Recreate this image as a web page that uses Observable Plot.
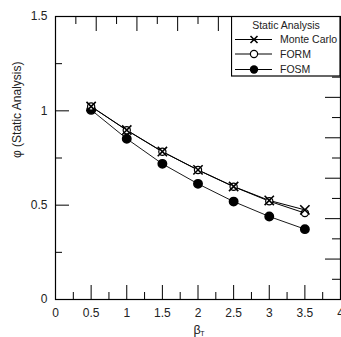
<!DOCTYPE html>
<html><head><meta charset="utf-8">
<script src="https://cdn.jsdelivr.net/npm/d3@7"></script>
<script src="https://cdn.jsdelivr.net/npm/@observablehq/plot@0.6"></script>
<style>
body{margin:0;background:#fff;font-family:"Liberation Sans",Arial,sans-serif;}
#wrap{position:relative;width:341px;height:337px;overflow:hidden;}
#legend{position:absolute;left:231px;top:16px;}
</style></head><body>
<div id="wrap"></div>
<script>
const beta = [0.5, 1, 1.5, 2, 2.5, 3, 3.5];
const monteCarlo = [1.023, 0.898, 0.784, 0.687, 0.599, 0.525, 0.475];
const form = [1.023, 0.897, 0.783, 0.686, 0.598, 0.521, 0.458];
const fosm = [1.005, 0.852, 0.719, 0.613, 0.519, 0.440, 0.373];
const seriesNames = ["Monte Carlo", "FORM", "FOSM"];
const legendTitle = "Static Analysis";
const xTickLabels = [0, 0.5, 1, 1.5, 2, 2.5, 3, 3.5, 4];
const yTickLabels = [0, 0.5, 1, 1.5];
const xMinor = [0.25, 0.75, 1.25, 1.75, 2.25, 2.75, 3.25, 3.75];
const xMajor = [0.5, 1, 1.5, 2, 2.5, 3, 3.5];
const yMinor = [0.25, 0.75, 1.25];
const yMajor = [0.5, 1];
const topTicks = d3.range(1, 14).map(i => i * 4 / 14);
const rightTicks = d3.range(1, 14).map(i => i * 1.5 / 14);

const W = 341, H = 337, mL = 55, mR = 1, mT = 16, mB = 38;
const pw = W - mL - mR, ph = H - mT - mB;

const rows = (ys) => beta.map((b, i) => ({x: b, y: ys[i]}));
const mc = rows(monteCarlo), fm = rows(form), fs = rows(fosm);

const chart = Plot.plot({
  width: W, height: H,
  marginLeft: mL, marginRight: mR, marginTop: mT, marginBottom: mB,
  style: {fontFamily: "Liberation Sans, Arial, sans-serif", fontSize: "12px", color: "#222", background: "#fff"},
  x: {domain: [0, 4]},
  y: {domain: [0, 1.5]},
  marks: [
    Plot.axisX(xTickLabels, {tickSize: 0, tickPadding: 9, label: null, tickFormat: d => String(d), fontSize: 12}),
    Plot.axisY(yTickLabels, {tickSize: 0, tickPadding: 8, label: null, tickFormat: d => String(d), fontSize: 12}),
    // bottom ticks
    Plot.tickX(xMajor, {x: d => d, insetTop: ph - 14, stroke: "#000"}),
    Plot.tickX(xMinor, {x: d => d, insetTop: ph - 7, stroke: "#000"}),
    // top ticks
    Plot.tickX(topTicks.filter((d, i) => i % 2 === 1), {x: d => d, insetBottom: ph - 15, stroke: "#000"}),
    Plot.tickX(topTicks.filter((d, i) => i % 2 === 0), {x: d => d, insetBottom: ph - 8, stroke: "#000"}),
    // left ticks
    Plot.tickY(yMajor, {y: d => d, insetRight: pw - 14, stroke: "#000"}),
    Plot.tickY(yMinor, {y: d => d, insetRight: pw - 7, stroke: "#000"}),
    // right ticks
    Plot.tickY(rightTicks.filter((d, i) => i % 2 === 1), {y: d => d, insetLeft: pw - 15, stroke: "#000"}),
    Plot.tickY(rightTicks.filter((d, i) => i % 2 === 0), {y: d => d, insetLeft: pw - 8, stroke: "#000"}),
    Plot.frame({stroke: "#000", strokeWidth: 1.2}),
    Plot.line(fs, {x: "x", y: "y", stroke: "#000", strokeWidth: 0.9}),
    Plot.line(fm, {x: "x", y: "y", stroke: "#000", strokeWidth: 1}),
    Plot.line(mc, {x: "x", y: "y", stroke: "#000", strokeWidth: 1}),
    Plot.dot(fs, {x: "x", y: "y", r: 4.2, fill: "#000", stroke: "#000"}),
    Plot.dot(fm, {x: "x", y: "y", r: 3.6, fill: "#fff", stroke: "#000", strokeWidth: 1.2}),
    Plot.dot(mc, {x: "x", y: "y", symbol: "times", r: 4.3, stroke: "#000", strokeWidth: 1.6}),
    Plot.text(["β"], {frameAnchor: "bottom", dy: 34, dx: -1, text: d => d, fontSize: 12.5, fill: "#222"}),
    Plot.text(["T"], {frameAnchor: "bottom", dy: 36, dx: 4.5, text: d => d, fontSize: 7, fill: "#222"}),
    Plot.text(["φ (Static Analysis)"], {frameAnchor: "left", dx: -38, rotate: -90, text: d => d, fontSize: 12, fill: "#222"})
  ]
});
document.getElementById("wrap").appendChild(chart);

// legend overlay
const lg = d3.select("#wrap").append("svg").attr("id", "legend")
  .attr("width", 110).attr("height", 61)
  .style("font-family", "Liberation Sans, Arial, sans-serif");
lg.append("rect").attr("x", 0.5).attr("y", 0.5).attr("width", 108.5).attr("height", 59.5)
  .attr("fill", "#fff").attr("stroke", "#000").attr("stroke-width", 1.2);
lg.append("text").attr("x", 55).attr("y", 13).attr("text-anchor", "middle")
  .attr("font-size", 10.5).attr("fill", "#222").text(legendTitle);
const rowY = [23.5, 38, 53.5];
seriesNames.forEach((name, i) => {
  const y = rowY[i];
  lg.append("line").attr("x1", 4).attr("x2", 41).attr("y1", y).attr("y2", y).attr("stroke", "#000");
  if (i === 0) {
    lg.append("path").attr("d", `M${23-3.5},${y-3.5}L${23+3.5},${y+3.5}M${23-3.5},${y+3.5}L${23+3.5},${y-3.5}`)
      .attr("stroke", "#000").attr("stroke-width", 1.6);
  } else if (i === 1) {
    lg.append("circle").attr("cx", 23).attr("cy", y).attr("r", 3.6).attr("fill", "#fff").attr("stroke", "#000").attr("stroke-width", 1.2);
  } else {
    lg.append("circle").attr("cx", 23).attr("cy", y).attr("r", 4.2).attr("fill", "#000");
  }
  lg.append("text").attr("x", 49).attr("y", y + 3.8).attr("font-size", 10.5).attr("fill", "#222").text(name);
});
</script>
</body></html>
